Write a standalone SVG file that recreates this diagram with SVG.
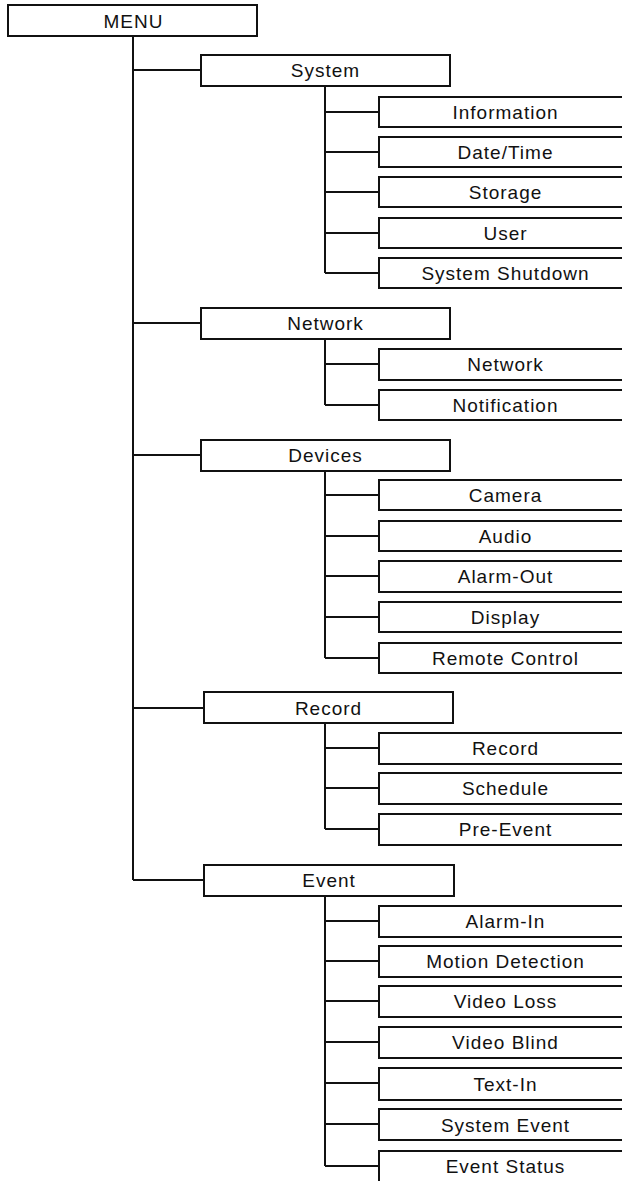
<svg xmlns="http://www.w3.org/2000/svg" width="622" height="1181" viewBox="0 0 622 1181">
<style>
rect{fill:#fff;stroke:#111;stroke-width:2}
text{font-family:"Liberation Sans",Arial,sans-serif;font-size:19px;letter-spacing:1px;fill:#111;text-anchor:middle}
.c{fill:none;stroke:#111;stroke-width:2}
</style>
<rect x="0" y="0" width="622" height="1181" style="stroke:none"/>
<g id="connectors">
<path class="c" d="M133 36V880M133 70H201M133 323H201M133 455H201M133 708H204M133 880H204"/>
<path class="c" d="M325 86V273M325 112H379M325 152H379M325 192H379M325 233H379M325 273H379"/>
<path class="c" d="M325 339V405M325 364H379M325 405H379"/>
<path class="c" d="M325 471V658M325 495H379M325 536H379M325 576H379M325 617H379M325 658H379"/>
<path class="c" d="M325 723V829M325 748H379M325 788H379M325 829H379"/>
<path class="c" d="M325 896V1166M325 921H379M325 961H379M325 1001H379M325 1042H379M325 1083H379M325 1124H379M325 1166H379"/>
</g>
<g id="menu"><rect x="8" y="5" width="249" height="31"/><text x="133.5" y="28">MENU</text></g>
<g id="system"><rect x="201" y="55" width="249" height="31"/><text x="325.5" y="77">System</text></g>
<g id="information"><rect x="379" y="97" width="260" height="30"/><text x="505.5" y="119">Information</text></g>
<g id="datetime"><rect x="379" y="137" width="260" height="30"/><text x="505.5" y="159">Date/Time</text></g>
<g id="storage"><rect x="379" y="177" width="260" height="30"/><text x="505.5" y="199">Storage</text></g>
<g id="user"><rect x="379" y="218" width="260" height="30"/><text x="505.5" y="240">User</text></g>
<g id="shutdown"><rect x="379" y="258" width="260" height="30"/><text x="505.5" y="280">System Shutdown</text></g>
<g id="network"><rect x="201" y="308" width="249" height="31"/><text x="325.5" y="330">Network</text></g>
<g id="network-sub"><rect x="379" y="349" width="260" height="31"/><text x="505.5" y="371">Network</text></g>
<g id="notification"><rect x="379" y="390" width="260" height="30"/><text x="505.5" y="412">Notification</text></g>
<g id="devices"><rect x="201" y="440" width="249" height="31"/><text x="325.5" y="462">Devices</text></g>
<g id="camera"><rect x="379" y="480" width="260" height="30"/><text x="505.5" y="502">Camera</text></g>
<g id="audio"><rect x="379" y="521" width="260" height="30"/><text x="505.5" y="543">Audio</text></g>
<g id="alarmout"><rect x="379" y="561" width="260" height="31"/><text x="505.5" y="583">Alarm-Out</text></g>
<g id="display"><rect x="379" y="602" width="260" height="30"/><text x="505.5" y="624">Display</text></g>
<g id="remote"><rect x="379" y="643" width="260" height="30"/><text x="505.5" y="665">Remote Control</text></g>
<g id="record"><rect x="204" y="692" width="249" height="31"/><text x="328.5" y="715">Record</text></g>
<g id="record-sub"><rect x="379" y="733" width="260" height="31"/><text x="505.5" y="755">Record</text></g>
<g id="schedule"><rect x="379" y="773" width="260" height="31"/><text x="505.5" y="795">Schedule</text></g>
<g id="preevent"><rect x="379" y="814" width="260" height="31"/><text x="505.5" y="836">Pre-Event</text></g>
<g id="event"><rect x="204" y="865" width="250" height="31"/><text x="329" y="887">Event</text></g>
<g id="alarmin"><rect x="379" y="906" width="260" height="31"/><text x="505.5" y="928">Alarm-In</text></g>
<g id="motion"><rect x="379" y="946" width="260" height="31"/><text x="505.5" y="968">Motion Detection</text></g>
<g id="videoloss"><rect x="379" y="986" width="260" height="31"/><text x="505.5" y="1008">Video Loss</text></g>
<g id="videoblind"><rect x="379" y="1027" width="260" height="31"/><text x="505.5" y="1049">Video Blind</text></g>
<g id="textin"><rect x="379" y="1068" width="260" height="32"/><text x="505.5" y="1091">Text-In</text></g>
<g id="sysevent"><rect x="379" y="1109" width="260" height="31"/><text x="505.5" y="1132">System Event</text></g>
<g id="eventstatus"><rect x="379" y="1151" width="260" height="40"/><text x="505.5" y="1173">Event Status</text></g>
</svg>
